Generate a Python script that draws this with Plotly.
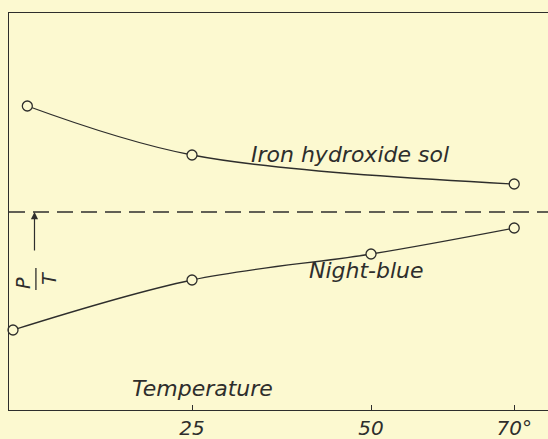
import plotly.graph_objects as go

# temperature (deg C) and P/T ratio (arbitrary units)
iron_temp = [2, 25, 70]
iron_ratio = [3.04, 2.55, 2.26]
blue_temp = [0, 25, 50, 70]
blue_ratio = [0.80, 1.30, 1.56, 1.82]
ref_level = 1.98
tick_vals = [25, 50, 70]
tick_text = ["<i>25</i>", "<i>50</i>", "<i>70°</i>"]

bg = "#fcf9d0"
ink = "#2e2e2c"
font_family = "DejaVu Sans, sans-serif"

fig = go.Figure()

for xs, ys in [(iron_temp, iron_ratio), (blue_temp, blue_ratio)]:
    fig.add_trace(go.Scatter(
        x=xs, y=ys, mode="lines+markers",
        line=dict(color=ink, width=1.3, shape="spline", smoothing=1.0),
        marker=dict(symbol="circle", size=10, color=bg,
                    line=dict(color=ink, width=1.3)),
        cliponaxis=False, showlegend=False, hoverinfo="skip",
    ))

# horizontal reference line
fig.add_shape(type="line", xref="paper", x0=0, x1=1, yref="y",
              y0=ref_level, y1=ref_level,
              line=dict(color=ink, width=1.3, dash="16px,8px"))

# P/T label with arrow
fig.add_annotation(x=3.0, y=ref_level, ax=3.0, ay=1.58, xref="x", yref="y",
                   axref="x", ayref="y", text="", showarrow=True,
                   arrowhead=2, arrowsize=1.2, arrowwidth=1.2, arrowcolor=ink)
fig.add_shape(type="line", x0=3.2, x1=3.2, y0=1.20, y1=1.42,
              line=dict(color=ink, width=1.3))
fig.add_annotation(x=1.4, y=1.27, text="<i>P</i>", showarrow=False,
                   textangle=-90, font=dict(size=19, color=ink, family=font_family))
fig.add_annotation(x=5.0, y=1.32, text="<i>T</i>", showarrow=False,
                   textangle=-90, font=dict(size=19, color=ink, family=font_family))

# curve labels
label_font = dict(size=22, color=ink, family=font_family)
fig.add_annotation(x=47.0, y=2.56, text="<i>Iron hydroxide sol</i>",
                   showarrow=False, font=label_font)
fig.add_annotation(x=49.4, y=1.40, text="<i>Night-blue</i>",
                   showarrow=False, font=label_font)
fig.add_annotation(x=26.4, y=0.22, text="<i>Temperature</i>",
                   showarrow=False, font=label_font)

fig.update_layout(
    width=548, height=439,
    margin=dict(l=9, r=0, t=13, b=29, autoexpand=False),
    paper_bgcolor=bg, plot_bgcolor=bg,
    font=dict(family=font_family, color=ink),
    xaxis=dict(range=[-0.56, 74.72], showgrid=False, zeroline=False,
               automargin=False,
               showline=True, linecolor=ink, linewidth=1.3, mirror=True,
               tickvals=tick_vals, ticktext=tick_text, ticks="inside",
               ticklen=5, tickcolor=ink, tickwidth=1.2,
               tickfont=dict(size=20, color=ink, family=font_family)),
    yaxis=dict(range=[0, 3.97], showgrid=False, zeroline=False,
               automargin=False,
               showline=True, linecolor=ink, linewidth=1.3,
               showticklabels=False, ticks=""),
)

fig.write_html(
    "out.html",
    config={"displayModeBar": False},
    post_script="document.body.style.margin='0';"
                "document.body.style.background='" + bg + "';",
)
